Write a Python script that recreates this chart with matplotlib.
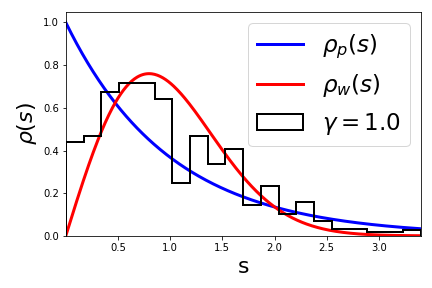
import numpy as np
import matplotlib
matplotlib.use('Agg')
import matplotlib.pyplot as plt

# histogram of level spacings (density)
bordes = np.linspace(0.0, 3.40, 21)
alturas = [0.441, 0.469, 0.675, 0.717, 0.717, 0.643, 0.249, 0.469, 0.338, 0.407,
           0.145, 0.235, 0.103, 0.161, 0.072, 0.030, 0.030, 0.016, 0.016, 0.028]
etiqueta_hist = r'$\gamma = 1.0$'

# theoretical curves: Poisson and Wigner surmise
s = np.linspace(0.0, 3.5, 400)
rho_p = np.exp(-s)
rho_w = (np.pi / 2) * s * np.exp(-np.pi * s**2 / 4)

fig = plt.figure(figsize=(6, 4), dpi=72)
ax = fig.add_axes([0.153, 0.181, 0.822, 0.778])

ax.plot(s, rho_p, color='b', lw=3, label=r'$\rho_p(s)$')
ax.plot(s, rho_w, color='r', lw=3, label=r'$\rho_w(s)$')
centros = (bordes[:-1] + bordes[1:]) / 2
ax.hist(centros, bins=bordes, weights=alturas, histtype='step', color='k', lw=2,
        label=etiqueta_hist)

ax.set_xlim(0.003, 3.405)
ax.set_ylim(0, 1.05)
ax.set_xticks([0.5, 1.0, 1.5, 2.0, 2.5, 3.0])
ax.set_xlabel('s', fontsize=22)
ax.set_ylabel(r'$\rho(s)$', fontsize=22)
ax.legend(loc='upper right', fontsize=23, labelspacing=0.5)

fig.savefig('out.png', dpi=72)
